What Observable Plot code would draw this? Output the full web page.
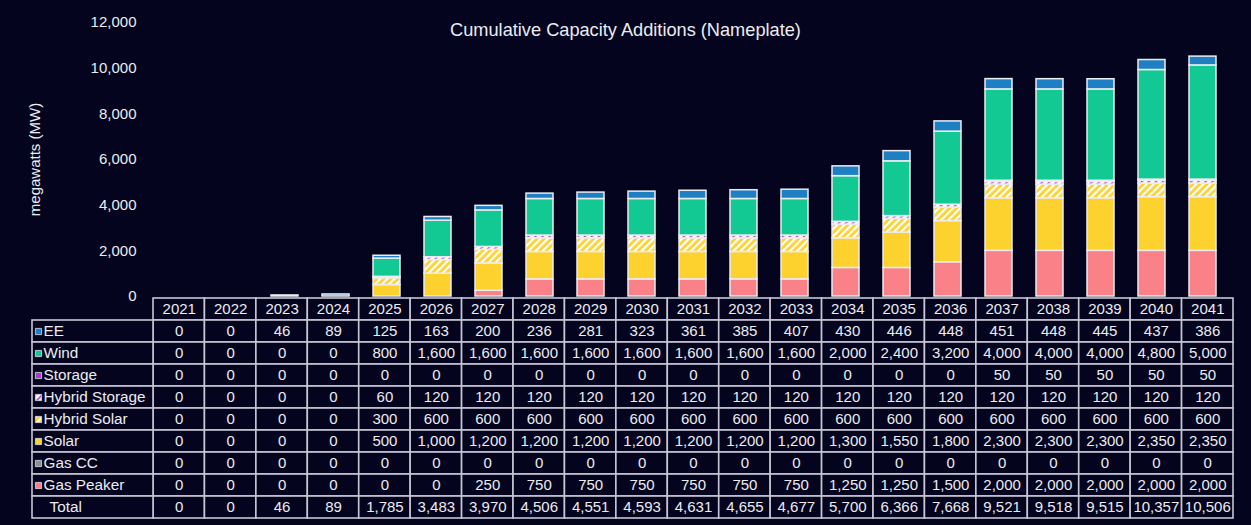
<!DOCTYPE html>
<html><head><meta charset="utf-8">
<script src="https://cdn.jsdelivr.net/npm/d3@7"></script>
<script src="https://cdn.jsdelivr.net/npm/@observablehq/plot@0.6"></script>
<style>
html,body{margin:0;padding:0;background:#04041e;}
#wrap{position:relative;width:1251px;height:525px;background:#04041e;font-family:"Liberation Sans",Arial,sans-serif;overflow:hidden}
#title{position:absolute;left:0;top:19px;width:1251px;text-align:center;color:#ececf2;font-size:18.2px;line-height:22px;}
#wrap svg{overflow:visible;display:block}
</style></head><body>
<svg width="0" height="0" style="position:absolute">
  <defs>
    <pattern id="hsol" patternUnits="userSpaceOnUse" width="5" height="5" patternTransform="rotate(45)">
      <rect width="5" height="5" fill="#fdd22f"></rect><rect width="2.2" height="5" fill="#ffffff"></rect>
    </pattern>
    <pattern id="hstor" patternUnits="userSpaceOnUse" width="5" height="5" patternTransform="rotate(45)">
      <rect width="5" height="5" fill="#ffffff"></rect><rect width="1.6" height="5" fill="#a43fc6"></rect>
    </pattern>
  </defs>
</svg>
<div id="wrap"><div id="title">Cumulative Capacity Additions (Nameplate)</div><div id="chart"></div><div id="table"></div></div>
<script>
const years = ["2021","2022","2023","2024","2025","2026","2027","2028","2029","2030","2031","2032","2033","2034","2035","2036","2037","2038","2039","2040","2041"];
const series = ["EE","Wind","Storage","Hybrid Storage","Hybrid Solar","Solar","Gas CC","Gas Peaker"];
const ee            = [0,0,46,89,125,163,200,236,281,323,361,385,407,430,446,448,451,448,445,437,386];
const wind          = [0,0,0,0,800,1600,1600,1600,1600,1600,1600,1600,1600,2000,2400,3200,4000,4000,4000,4800,5000];
const storage       = [0,0,0,0,0,0,0,0,0,0,0,0,0,0,0,0,50,50,50,50,50];
const hybridStorage = [0,0,0,0,60,120,120,120,120,120,120,120,120,120,120,120,120,120,120,120,120];
const hybridSolar   = [0,0,0,0,300,600,600,600,600,600,600,600,600,600,600,600,600,600,600,600,600];
const solar         = [0,0,0,0,500,1000,1200,1200,1200,1200,1200,1200,1200,1300,1550,1800,2300,2300,2300,2350,2350];
const gasCC         = [0,0,0,0,0,0,0,0,0,0,0,0,0,0,0,0,0,0,0,0,0];
const gasPeaker     = [0,0,0,0,0,0,250,750,750,750,750,750,750,1250,1250,1500,2000,2000,2000,2000,2000];
const total         = [0,0,46,89,1785,3483,3970,4506,4551,4593,4631,4655,4677,5700,6366,7668,9521,9518,9515,10357,10506];
const yTicks = [0,2000,4000,6000,8000,10000,12000];
const seriesColors = ["#1f7fc3","#13c993","#a43fc6","url(#hstor)","url(#hsol)","#fdd22f","#8e8e8e","#fa8187"];

const valuesBySeries = {"EE": ee, "Wind": wind, "Storage": storage, "Hybrid Storage": hybridStorage,
  "Hybrid Solar": hybridSolar, "Solar": solar, "Gas CC": gasCC, "Gas Peaker": gasPeaker};

const bg = "#04041e", fg = "#ececf2", grid = "#c6c6d4";
const font = "'Liberation Sans', Arial, sans-serif";
const fmt = d3.format(",");

// stacked long data, bottom to top
const stackOrder = series.slice().reverse();
const long = [];
for (const s of stackOrder) years.forEach((y, i) => { const v = valuesBySeries[s][i]; if (v > 0) long.push({year: y, series: s, value: v}); });

const colorScale = {domain: series, range: seriesColors};

const chart = Plot.plot({
  width: 1251, height: 297,
  marginTop: 22, marginBottom: 1, marginLeft: 153, marginRight: 18,
  style: {background: "transparent", color: fg, fontFamily: font, fontSize: "15px", overflow: "visible"},
  x: {domain: years, paddingInner: 0.47, paddingOuter: 0.235, axis: null},
  y: {domain: [0, 12000]},
  color: colorScale,
  marks: [
    Plot.axisY({ticks: yTicks, tickFormat: fmt, tickSize: 0, tickPadding: 17, label: null}),
    Plot.barY(long, {x: "year", y: "value", fill: "series", stroke: "#ececf2", strokeWidth: 1.5, order: null}),
    Plot.text(["megawatts (MW)"], {frameAnchor: "left", textAnchor: "middle", rotate: -90, dx: -118, fontSize: 15, fill: fg})
  ]
});
document.getElementById("chart").appendChild(chart);

// table
const rows = ["header", ...series, "Total"];
const labelSpan = 2.353; // label column width in year-column units
const yearCells = [];
years.forEach((y, i) => {
  yearCells.push({row: "header", i, text: y});
  for (const s of series) yearCells.push({row: s, i, text: fmt(valuesBySeries[s][i])});
  yearCells.push({row: "Total", i, text: fmt(total[i])});
});
const labelRows = [...series, "Total"];

const table = Plot.plot({
  width: 1251, height: 228,
  marginTop: 0, marginBottom: 6, marginLeft: 32, marginRight: 18,
  style: {background: "transparent", color: fg, fontFamily: font, fontSize: "15px", overflow: "visible"},
  x: {type: "linear", domain: [-labelSpan, years.length], axis: null},
  y: {domain: rows, padding: 0, axis: null},
  color: colorScale,
  marks: [
    Plot.barX(yearCells, {x1: d => d.i, x2: d => d.i + 1, y: "row", fill: bg, stroke: grid, strokeWidth: 1.6}),
    Plot.barX(labelRows, {x1: () => -labelSpan, x2: () => 0, y: d => d, fill: bg, stroke: grid, strokeWidth: 1.6}),
    Plot.text(yearCells, {x: d => d.i + 0.5, y: "row", text: "text", fill: fg, fontSize: 15}),
    Plot.dot(series, {x: () => -labelSpan, y: d => d, dx: 6, symbol: "square", r: 3.5, fill: d => d, stroke: "#dcdce6", strokeWidth: 0.8}),
    Plot.text(labelRows, {x: () => -labelSpan, y: d => d, text: d => d, textAnchor: "start", fill: fg, fontSize: 15.3, dx: 11})
  ]
});
document.getElementById("table").appendChild(table);
// indent "Total" label slightly more
d3.select(table).selectAll("text").filter(function() { return this.textContent === "Total"; }).attr("transform", function() {
  const t = this.getAttribute("transform") || ""; return t + " translate(6,0)";
});
</script>
</body></html>
